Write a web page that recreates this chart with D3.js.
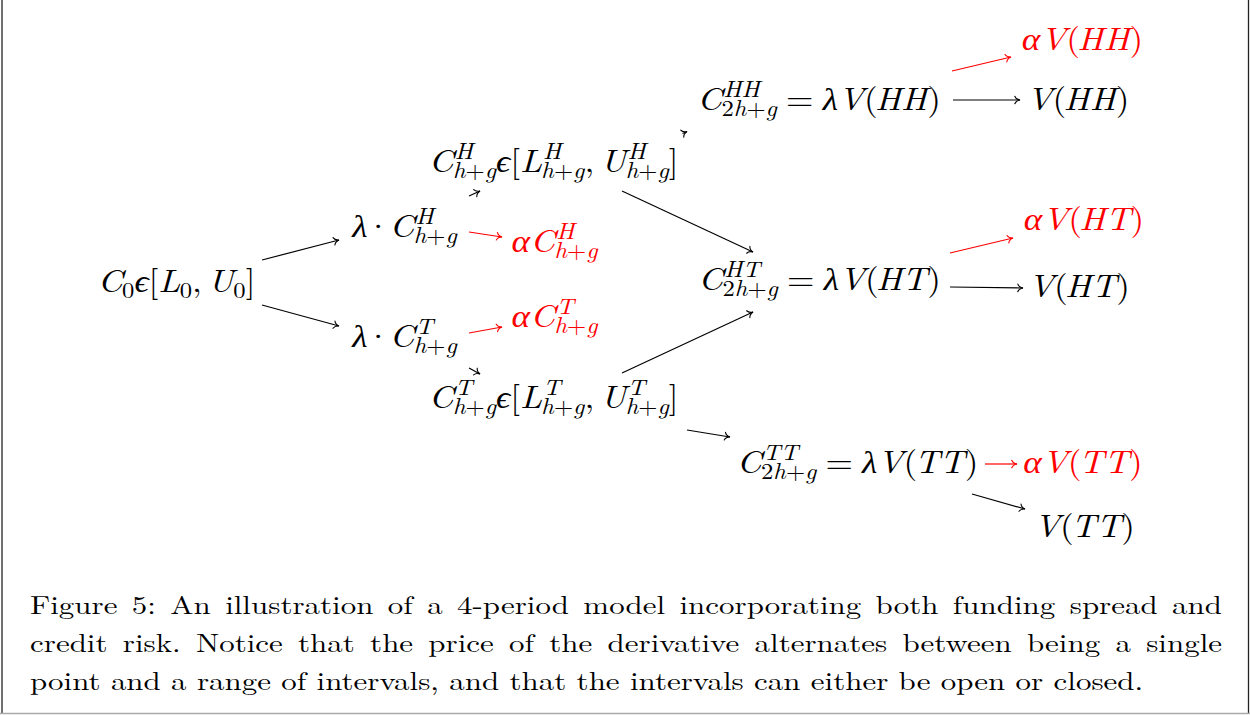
<!DOCTYPE html>
<html>
<head>
<meta charset="utf-8">
<script src="https://cdn.jsdelivr.net/npm/d3@7"></script>
<style>
  html, body { margin: 0; padding: 0; background: #fff; }
  svg { display: block; }
  text { font-family: 'Latin Modern Roman', 'Liberation Serif', serif; fill: currentColor; }
</style>
</head>
<body>
<svg id="figure"></svg>
<script>
// nodes of the 4-period tree, labels in a small tex-like syntax
const nodeIds = ['c0', 'lamH', 'lamT', 'defH', 'defT', 'intH', 'intT', 'hh', 'ht', 'tt',
  'defHH', 'vHH', 'defHT', 'vHT', 'defTT', 'vTT']
const nodeLabels = [
  'C_0ϵ[L_0,U_0]',
  'λ·C^H_{h+g}', 'λ·C^T_{h+g}',
  'αC^H_{h+g}', 'αC^T_{h+g}',
  'C^H_{h+g}ϵ[L^H_{h+g},U^H_{h+g}]', 'C^T_{h+g}ϵ[L^T_{h+g},U^T_{h+g}]',
  'C^{HH}_{2h+g}=λV(HH)', 'C^{HT}_{2h+g}=λV(HT)', 'C^{TT}_{2h+g}=λV(TT)',
  'αV(HH)', 'V(HH)', 'αV(HT)', 'V(HT)', 'αV(TT)', 'V(TT)'
]
const nodeKinds = ['value', 'value', 'value', 'default', 'default', 'value', 'value',
  'value', 'value', 'value', 'default', 'value', 'default', 'value', 'default', 'value']
// label centre and baseline, in diagram units
const nodeX = [17.65, 40.45, 40.45, 55.45, 55.45, 55.35, 55.35, 81.9, 81.95, 85.75,
  108.25, 107.8, 108.4, 107.9, 108.3, 108.45]
const nodeY = [29.2, 23.7, 34.7, 25.2, 32.7, 17.2, 40.8, 11.0, 29.0, 47.3,
  5.0, 11.0, 23.0, 29.7, 47.3, 53.7]

// arrows between nodes, start and end in diagram units
const edgeFrom = ['c0', 'c0', 'lamH', 'lamT', 'lamH', 'lamT', 'intH', 'intH', 'intT', 'intT',
  'hh', 'hh', 'ht', 'ht', 'tt', 'tt']
const edgeTo = ['lamH', 'lamT', 'defH', 'defT', 'intH', 'intT', 'hh', 'ht', 'ht', 'tt',
  'defHH', 'vHH', 'defHT', 'vHT', 'defTT', 'vTT']
const edgeX1 = [26.2, 26.2, 46.9, 46.9, 46.9, 46.9, 68.25, 62.2, 62.2, 68.7, 95.2, 95.3, 95.0, 95.0, 98.5, 97.2]
const edgeY1 = [26.0, 30.5, 23.2, 33.3, 19.6, 36.8, 13.35, 19.1, 37.3, 43.0, 7.1, 10.0, 25.3, 28.7, 46.4, 49.4]
const edgeX2 = [33.9, 33.9, 50.2, 50.2, 48.0, 48.0, 68.7, 75.3, 75.3, 73.0, 101.1, 102.0, 101.3, 102.3, 101.7, 102.5]
const edgeY2 = [24.0, 32.6, 23.7, 32.7, 19.1, 37.4, 13.15, 25.2, 31.2, 43.7, 5.7, 10.0, 23.8, 28.8, 46.4, 50.9]

const captionLines = [
  'Figure 5: An illustration of a 4-period model incorporating both funding spread and',
  'credit risk. Notice that the price of the derivative alternates between being a single',
  'point and a range of intervals, and that the intervals can either be open or closed.'
]

const width = 1250
const height = 715
const mathSize = 32
const captionSize = 25.6
// the figure is printed wider than it is tall
const mathStretch = 1.1
const captionStretch = 1.21

const x = d3.scaleLinear().domain([0, 125]).range([0, width])
const y = d3.scaleLinear().domain([0, 71.5]).range([0, height])
const color = d3.scaleOrdinal().domain(['value', 'default']).range(['#000000', '#ff0000'])

const svg = d3.select('#figure')
  .attr('width', width)
  .attr('height', height)

svg.append('rect')
  .attr('width', width)
  .attr('height', height)
  .attr('fill', '#fff')

// frame
svg.append('line').attr('x1', 2).attr('x2', 2).attr('y1', 0).attr('y2', 713)
  .attr('stroke', '#222').attr('stroke-width', 1.3)
svg.append('line').attr('x1', 1248.5).attr('x2', 1248.5).attr('y1', 0).attr('y2', 713)
  .attr('stroke', '#222').attr('stroke-width', 1.3)
svg.append('line').attr('x1', 0).attr('x2', width).attr('y1', 713.5).attr('y2', 713.5)
  .attr('stroke', '#aaa').attr('stroke-width', 1.5)

// tikz style "to" arrow heads
const defs = svg.append('defs')
color.domain().forEach((k) => {
  defs.append('marker')
    .attr('id', `head-${k}`)
    .attr('viewBox', '-7 -5 8 10')
    .attr('refX', 0)
    .attr('refY', 0)
    .attr('markerUnits', 'userSpaceOnUse')
    .attr('markerWidth', 8)
    .attr('markerHeight', 10)
    .attr('orient', 'auto')
    .append('path')
    .attr('d', 'M-5.2,-3.8 C-4.4,-1.5 -1.7,-0.3 0,0 C-1.7,0.3 -4.4,1.5 -5.2,3.8')
    .attr('fill', 'none')
    .attr('stroke', color(k))
    .attr('stroke-width', 1.1)
    .attr('stroke-linecap', 'round')
})

const kindOf = (id) => nodeKinds[nodeIds.indexOf(id)]
const edges = edgeFrom.map((f, i) => ({
  from: f, to: edgeTo[i], x1: edgeX1[i], y1: edgeY1[i], x2: edgeX2[i], y2: edgeY2[i], kind: kindOf(edgeTo[i])
}))

svg.append('g').selectAll('line')
  .data(edges)
  .enter().append('line')
  .attr('x1', (d) => x(d.x1))
  .attr('y1', (d) => y(d.y1))
  .attr('x2', (d) => x(d.x2))
  .attr('y2', (d) => y(d.y2))
  .attr('stroke', (d) => color(d.kind))
  .attr('stroke-width', 1.2)
  .attr('marker-end', (d) => `url(#head-${d.kind})`)

// --- tiny math typesetter: atoms with optional ^ and _ scripts ---
function parseMath(src) {
  const atoms = []
  let i = 0
  const readGroup = () => {
    if (src[i] === '{') {
      const j = src.indexOf('}', i)
      const g = src.slice(i + 1, j)
      i = j + 1
      return g
    }
    return src[i++]
  }
  while (i < src.length) {
    const ch = src[i]
    if (ch === '^' || ch === '_') {
      i++
      atoms[atoms.length - 1][ch === '^' ? 'sup' : 'sub'] = readGroup()
    } else {
      atoms.push({ base: ch, sup: null, sub: null })
      i++
    }
  }
  return atoms
}

const isGreek = (ch) => /[α-ωϵ]/.test(ch)
const isItalic = (ch) => /[A-Za-z]/.test(ch) || isGreek(ch)
const spacing = { '=': [0.26, 0.26], ',': [0, 0.17] }
const dotBox = 0.62

function putChar(g, ch, px, py, size) {
  const t = g.append('text')
    .attr('x', px)
    .attr('y', py)
    .style('font-size', `${size}px`)
    .style('font-style', isItalic(ch) ? 'italic' : 'normal')
    .text(ch)
  if (isGreek(ch)) t.style('font-family', "'Liberation Serif', serif")
  return t.node().getComputedTextLength()
}

function putRun(g, str, px, py, size) {
  let w = 0
  for (const ch of str) w += putChar(g, ch, px + w, py, size)
  return w
}

function drawMath(g, src, size) {
  let px = 0
  let prev = null
  parseMath(src).forEach((a) => {
    if (a.base === '·') {
      // binary operator: dot centred in its own box
      g.append('text')
        .attr('x', px + (dotBox * size) / 2)
        .attr('text-anchor', 'middle')
        .style('font-size', `${size}px`)
        .text(a.base)
      px += dotBox * size
      prev = a.base
      return
    }
    // text italic leans right after an opening paren; pull it back a little
    if (prev === '(' && /[A-Z]/.test(a.base)) px -= 0.08 * size
    const sp = spacing[a.base] || [0, 0]
    px += sp[0] * size
    px += putChar(g, a.base, px, 0, size)
    let w = 0
    if (a.sup) w = Math.max(w, putRun(g, a.sup, px + size * 0.03, -0.4 * size, size * 0.7) + size * 0.03)
    if (a.sub) w = Math.max(w, putRun(g, a.sub, px - size * 0.02, 0.2 * size, size * 0.7) - size * 0.02)
    px += w + sp[1] * size
    prev = a.base
  })
  return px
}

const nodes = nodeIds.map((id, i) => ({ id, label: nodeLabels[i], kind: nodeKinds[i], x: nodeX[i], y: nodeY[i] }))

svg.append('g').selectAll('g')
  .data(nodes)
  .enter().append('g')
  .style('color', (d) => color(d.kind))
  .each(function (d) {
    const g = d3.select(this)
    const w = drawMath(g.append('g'), d.label, mathSize)
    g.attr('transform', `translate(${x(d.x) - (w * mathStretch) / 2},${y(d.y)}) scale(${mathStretch},1)`)
  })

// caption, justified by word spacing except the last line
const captionX = 30
const captionWidth = 1192
const captionTop = 614
const captionLeading = 38

svg.append('g').selectAll('text')
  .data(captionLines)
  .enter().append('text')
  .attr('transform', (d, i) => `translate(${captionX},${captionTop + i * captionLeading}) scale(${captionStretch},1)`)
  .style('font-size', `${captionSize}px`)
  .style('fill', '#000')
  .text((d) => d)
  .each(function (line, li) {
    if (li === captionLines.length - 1) return
    const natural = this.getComputedTextLength()
    const gaps = line.split(' ').length - 1
    d3.select(this).attr('word-spacing', (captionWidth / captionStretch - natural) / gaps)
  })
</script>
</body>
</html>
